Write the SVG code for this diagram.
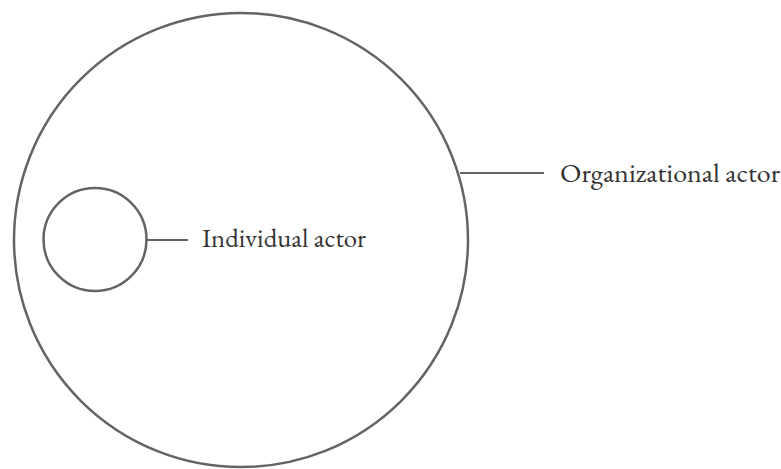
<svg xmlns="http://www.w3.org/2000/svg" width="781" height="469" viewBox="0 0 781 469">
<style>
.shape{fill:#fff;stroke:#646464;stroke-width:2.5}
.conn{stroke:#646464;stroke-width:2;fill:none}
.lbl{font-family:"EB Garamond","Liberation Serif",serif;font-size:26px;fill:#333}
</style>
<rect width="781" height="469" fill="#fff"/>
<g id="organizational-actor">
<circle class="shape" cx="241" cy="240" r="227"/>
<text class="lbl" x="560" y="182" textLength="220" lengthAdjust="spacingAndGlyphs">Organizational actor</text>
</g>
<g id="individual-actor">
<circle class="shape" cx="95" cy="239.5" r="51.5"/>
<text class="lbl" x="202" y="247" textLength="164" lengthAdjust="spacingAndGlyphs">Individual actor</text>
</g>
<g id="connectors">
<line class="conn" x1="147" y1="240" x2="188" y2="240"/>
<line class="conn" x1="460" y1="173" x2="544" y2="173"/>
</g>
</svg>
